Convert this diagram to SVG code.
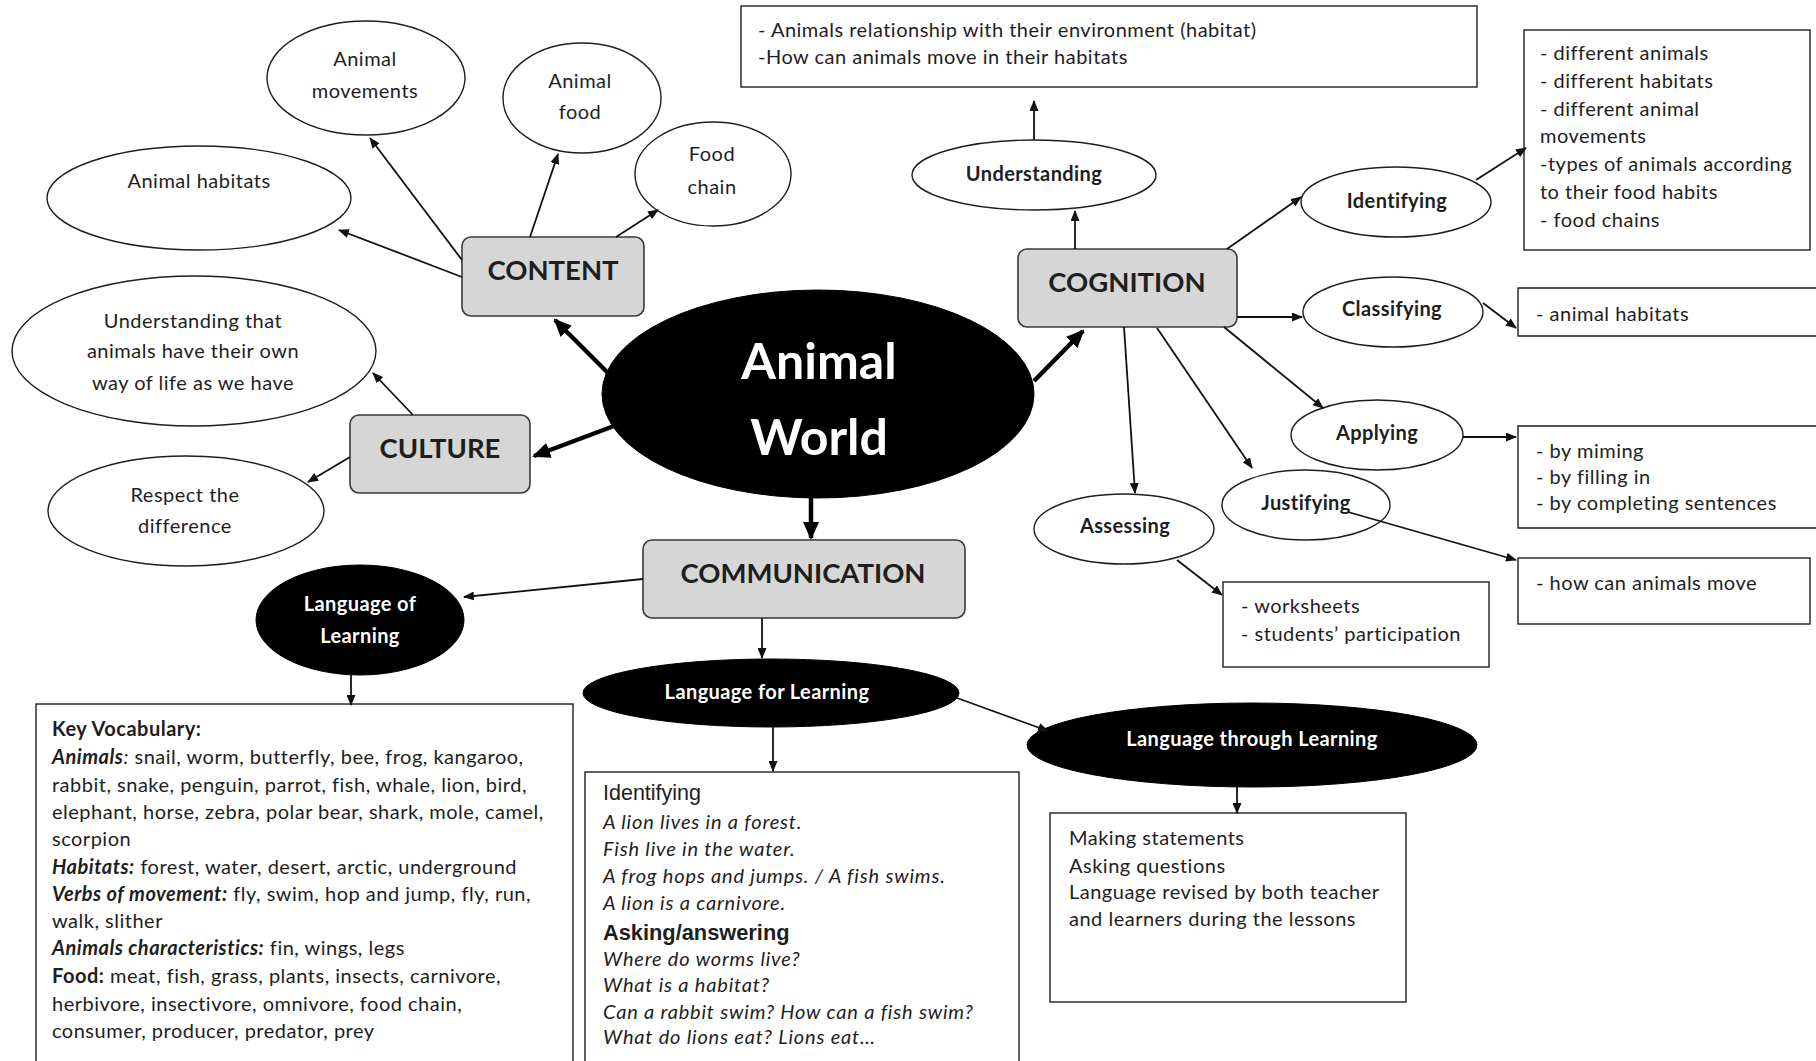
<svg xmlns="http://www.w3.org/2000/svg" width="1816" height="1061" viewBox="0 0 1816 1061">
  <style>
    text { font-family: Lato, "Open Sans", "Liberation Sans", sans-serif; fill: #1e1e1e; }
    .lbl { font-size: 20px; letter-spacing: 0.5px; text-anchor: middle; }
    .blbl { font-size: 20px; letter-spacing: 0.4px; font-weight: bold; text-anchor: middle; }
    .wlbl { font-size: 20px; letter-spacing: 0.4px; font-weight: bold; text-anchor: middle; fill: #ffffff; }
    .hub { font-size: 50px; font-weight: bold; text-anchor: middle; fill: #ffffff; }
    .cap { font-size: 27.5px; font-weight: bold; text-anchor: middle; }
    .txt { font-size: 20px; letter-spacing: 0.5px; }
    .it { font-size: 20px; letter-spacing: 0.8px; font-style: italic; }
    .arial { font-family: "Liberation Sans", Arial, sans-serif; }
    .oval { fill: #ffffff; stroke: #1e1e1e; stroke-width: 1.4; }
    .dark { fill: #000000; stroke: #000000; stroke-width: 1; }
    .cat { fill: #d6d6d6; stroke: #3a3a3a; stroke-width: 1.6; }
    .note { fill: #ffffff; stroke: #1e1e1e; stroke-width: 1.4; }
    .thin { stroke: #111111; stroke-width: 1.8; fill: none; marker-end: url(#head); }
    .thick { stroke: #000000; stroke-width: 4.5; fill: none; marker-end: url(#bighead); }
  </style>
  <defs>
    <marker id="head" markerUnits="userSpaceOnUse" markerWidth="11" markerHeight="9" refX="10" refY="4.5" orient="auto">
      <path d="M0,0 L11,4.5 L0,9 z" fill="#111111"/>
    </marker>
    <marker id="bighead" markerUnits="userSpaceOnUse" markerWidth="18" markerHeight="16" refX="16" refY="8" orient="auto">
      <path d="M0,0 L18,8 L0,16 z" fill="#000000"/>
    </marker>
  </defs>

  <rect width="1816" height="1061" fill="#ffffff"/>

  <!-- central topic -->
  <g id="animal-world">
    <ellipse class="dark" cx="818" cy="394" rx="216" ry="104"/>
    <text class="hub" x="819" y="379">Animal</text>
    <text class="hub" x="819" y="455">World</text>
  </g>

  <!-- CONTENT branch -->
  <g id="content">
    <rect class="cat" x="462" y="237" width="182" height="79" rx="9"/>
    <text class="cap" x="553" y="280">CONTENT</text>
  </g>
  <g id="animal-movements">
    <ellipse class="oval" cx="366" cy="78" rx="99" ry="57"/>
    <text class="lbl" x="365" y="66">Animal</text>
    <text class="lbl" x="365" y="98">movements</text>
  </g>
  <g id="animal-food">
    <ellipse class="oval" cx="582" cy="98" rx="79" ry="55"/>
    <text class="lbl" x="580" y="88">Animal</text>
    <text class="lbl" x="580" y="119">food</text>
  </g>
  <g id="food-chain">
    <ellipse class="oval" cx="713" cy="174" rx="78" ry="52"/>
    <text class="lbl" x="712" y="161">Food</text>
    <text class="lbl" x="712" y="194">chain</text>
  </g>
  <g id="animal-habitats">
    <ellipse class="oval" cx="199" cy="198" rx="152" ry="52"/>
    <text class="lbl" x="199" y="188">Animal habitats</text>
  </g>

  <!-- CULTURE branch -->
  <g id="culture">
    <rect class="cat" x="350" y="415" width="180" height="78" rx="9"/>
    <text class="cap" x="440" y="458">CULTURE</text>
  </g>
  <g id="way-of-life">
    <ellipse class="oval" cx="194" cy="351" rx="182" ry="75"/>
    <text class="lbl" x="193" y="328">Understanding that</text>
    <text class="lbl" x="193" y="358">animals have their own</text>
    <text class="lbl" x="193" y="390">way of life as we have</text>
  </g>
  <g id="respect">
    <ellipse class="oval" cx="186" cy="511" rx="138" ry="55"/>
    <text class="lbl" x="185" y="502">Respect the</text>
    <text class="lbl" x="185" y="533">difference</text>
  </g>

  <!-- COMMUNICATION branch -->
  <g id="communication">
    <rect class="cat" x="643" y="540" width="322" height="78" rx="9"/>
    <text class="cap" x="803" y="583">COMMUNICATION</text>
  </g>
  <g id="language-of-learning">
    <ellipse class="dark" cx="360" cy="620" rx="104" ry="55"/>
    <text class="wlbl" x="360" y="611">Language of</text>
    <text class="wlbl" x="360" y="643">Learning</text>
  </g>
  <g id="key-vocabulary">
    <rect class="note" x="36" y="704" width="537" height="380"/>
    <text class="txt" x="52" y="736" font-weight="bold" letter-spacing="0">Key Vocabulary:</text>
    <text class="txt" x="52" y="764"><tspan font-weight="bold" font-style="italic">Animals</tspan><tspan font-style="italic">:</tspan> snail, worm, butterfly, bee, frog, kangaroo,</text>
    <text class="txt" x="52" y="792">rabbit, snake, penguin, parrot, fish, whale, lion, bird,</text>
    <text class="txt" x="52" y="819">elephant, horse, zebra, polar bear, shark, mole, camel,</text>
    <text class="txt" x="52" y="846">scorpion</text>
    <text class="txt" x="52" y="874"><tspan font-weight="bold" font-style="italic">Habitats:</tspan> forest, water, desert, arctic, underground</text>
    <text class="txt" x="52" y="901"><tspan font-weight="bold" font-style="italic">Verbs of movement:</tspan> fly, swim, hop and jump, fly, run,</text>
    <text class="txt" x="52" y="928">walk, slither</text>
    <text class="txt" x="52" y="955"><tspan font-weight="bold" font-style="italic">Animals characteristics:</tspan> fin, wings, legs</text>
    <text class="txt" x="52" y="983"><tspan font-weight="bold">Food:</tspan> meat, fish, grass, plants, insects, carnivore,</text>
    <text class="txt" x="52" y="1011">herbivore, insectivore, omnivore, food chain,</text>
    <text class="txt" x="52" y="1038">consumer, producer, predator, prey</text>
  </g>
  <g id="language-for-learning">
    <ellipse class="dark" cx="771" cy="693" rx="188" ry="34"/>
    <text class="wlbl" x="767" y="699">Language for Learning</text>
  </g>
  <g id="language-for-learning-notes">
    <rect class="note" x="585" y="772" width="434" height="320"/>
    <text class="arial" x="603" y="800" font-size="21.5">Identifying</text>
    <text class="it" x="603" y="829">A lion lives in a forest.</text>
    <text class="it" x="603" y="856">Fish live in the water.</text>
    <text class="it" x="603" y="883">A frog hops and jumps. / A fish swims.</text>
    <text class="it" x="603" y="910">A lion is a carnivore.</text>
    <text class="arial" x="603" y="940" font-size="21.8" font-weight="bold">Asking/answering</text>
    <text class="it" x="603" y="966">Where do worms live?</text>
    <text class="it" x="603" y="992">What is a habitat?</text>
    <text class="it" x="603" y="1019">Can a rabbit swim? How can a fish swim?</text>
    <text class="it" x="603" y="1044">What do lions eat? Lions eat…</text>
  </g>
  <g id="language-through-learning">
    <ellipse class="dark" cx="1252" cy="745" rx="225" ry="42"/>
    <text class="wlbl" x="1252" y="746">Language through Learning</text>
  </g>
  <g id="language-through-learning-notes">
    <rect class="note" x="1050" y="813" width="356" height="189"/>
    <text class="txt" x="1069" y="845">Making statements</text>
    <text class="txt" x="1069" y="873">Asking questions</text>
    <text class="txt" x="1069" y="899">Language revised by both teacher</text>
    <text class="txt" x="1069" y="926">and learners during the lessons</text>
  </g>

  <!-- COGNITION branch -->
  <g id="cognition">
    <rect class="cat" x="1018" y="249" width="219" height="78" rx="9"/>
    <text class="cap" x="1127" y="292">COGNITION</text>
  </g>
  <g id="understanding">
    <ellipse class="oval" cx="1034" cy="175" rx="122" ry="35"/>
    <text class="blbl" x="1034" y="181">Understanding</text>
  </g>
  <g id="understanding-notes">
    <rect class="note" x="741" y="6" width="736" height="81"/>
    <text class="txt" x="758" y="37">- Animals relationship with their environment (habitat)</text>
    <text class="txt" x="758" y="64">-How can animals move in their habitats</text>
  </g>
  <g id="identifying">
    <ellipse class="oval" cx="1396" cy="202" rx="95" ry="35"/>
    <text class="blbl" x="1397" y="208">Identifying</text>
  </g>
  <g id="identifying-notes">
    <rect class="note" x="1524" y="30" width="286" height="220"/>
    <text class="txt" x="1540" y="60">- different animals</text>
    <text class="txt" x="1540" y="88">- different habitats</text>
    <text class="txt" x="1540" y="116">- different animal</text>
    <text class="txt" x="1540" y="143">movements</text>
    <text class="txt" x="1540" y="171">-types of animals according</text>
    <text class="txt" x="1540" y="199">to their food habits</text>
    <text class="txt" x="1540" y="227">- food chains</text>
  </g>
  <g id="classifying">
    <ellipse class="oval" cx="1393" cy="312" rx="90" ry="35"/>
    <text class="blbl" x="1392" y="316">Classifying</text>
  </g>
  <g id="classifying-notes">
    <path class="note" d="M1820,288 H1518 V336 H1820"/>
    <text class="txt" x="1536" y="321">- animal  habitats</text>
  </g>
  <g id="applying">
    <ellipse class="oval" cx="1377" cy="435" rx="86" ry="35"/>
    <text class="blbl" x="1377" y="440">Applying</text>
  </g>
  <g id="applying-notes">
    <path class="note" d="M1820,426 H1518 V528 H1820"/>
    <text class="txt" x="1536" y="458">- by miming</text>
    <text class="txt" x="1536" y="484">- by filling in</text>
    <text class="txt" x="1536" y="510">- by completing sentences</text>
  </g>
  <g id="justifying">
    <ellipse class="oval" cx="1306" cy="505" rx="84" ry="35"/>
    <text class="blbl" x="1306" y="510">Justifying</text>
  </g>
  <g id="justifying-notes">
    <rect class="note" x="1518" y="558" width="292" height="66"/>
    <text class="txt" x="1536" y="590">- how can animals move</text>
  </g>
  <g id="assessing">
    <ellipse class="oval" cx="1124" cy="529" rx="90" ry="35"/>
    <text class="blbl" x="1125" y="533">Assessing</text>
  </g>
  <g id="assessing-notes">
    <rect class="note" x="1223" y="582" width="266" height="85"/>
    <text class="txt" x="1241" y="613">- worksheets</text>
    <text class="txt" x="1241" y="641">- students’ participation</text>
  </g>

  <!-- connectors, drawn over the nodes -->
  <g id="connectors">
    <line class="thick" x1="608" y1="373" x2="555" y2="320"/>
    <line class="thick" x1="614" y1="426" x2="534" y2="456"/>
    <line class="thick" x1="1034" y1="381" x2="1083" y2="331"/>
    <line class="thick" x1="811" y1="497" x2="811" y2="538"/>

    <line class="thin" x1="462" y1="277" x2="339" y2="230"/>
    <line class="thin" x1="462" y1="260" x2="370" y2="138"/>
    <line class="thin" x1="530" y1="237" x2="558" y2="154"/>
    <line class="thin" x1="616" y1="237" x2="658" y2="210"/>
    <line class="thin" x1="413" y1="415" x2="373" y2="373"/>
    <line class="thin" x1="350" y1="457" x2="308" y2="482"/>

    <line class="thin" x1="643" y1="579" x2="464" y2="597"/>
    <line class="thin" x1="762" y1="618" x2="762" y2="658"/>
    <line class="thin" x1="351" y1="675" x2="351" y2="705"/>
    <line class="thin" x1="773" y1="727" x2="773" y2="771"/>
    <line class="thin" x1="957" y1="698" x2="1048" y2="731"/>
    <line class="thin" x1="1237" y1="787" x2="1237" y2="813"/>

    <line class="thin" x1="1075" y1="249" x2="1075" y2="211"/>
    <line class="thin" x1="1034" y1="140" x2="1034" y2="101"/>
    <line class="thin" x1="1227" y1="249" x2="1301" y2="197"/>
    <line class="thin" x1="1476" y1="180" x2="1526" y2="148"/>
    <line class="thin" x1="1237" y1="317" x2="1302" y2="317"/>
    <line class="thin" x1="1483" y1="303" x2="1516" y2="328"/>
    <line class="thin" x1="1224" y1="327" x2="1323" y2="408"/>
    <line class="thin" x1="1463" y1="437" x2="1516" y2="437"/>
    <line class="thin" x1="1157" y1="328" x2="1252" y2="468"/>
    <line class="thin" x1="1348" y1="512" x2="1516" y2="560"/>
    <line class="thin" x1="1124" y1="327" x2="1135" y2="493"/>
    <line class="thin" x1="1177" y1="560" x2="1222" y2="595"/>
  </g>
</svg>
